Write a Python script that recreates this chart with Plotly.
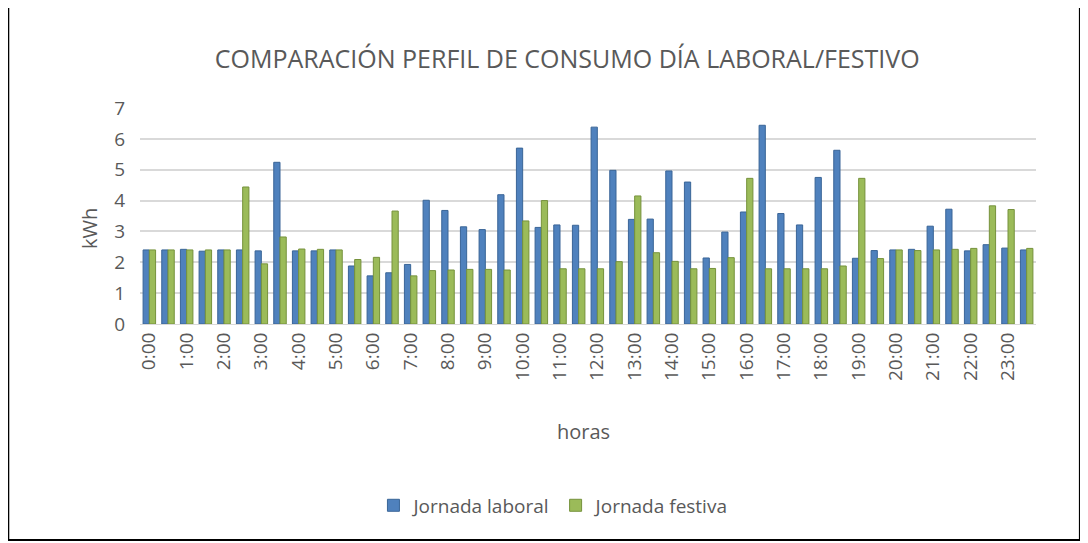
import plotly.graph_objects as go

# Half-hour categories 0:00 ... 23:30
horas = [f"{h}:{m:02d}" for h in range(24) for m in (0, 30)]

laboral = [2.40, 2.40, 2.42, 2.36, 2.40, 2.40, 2.37, 5.24, 2.37, 2.37,
           2.40, 1.88, 1.56, 1.66, 1.93, 4.01, 3.68, 3.15, 3.06, 4.19,
           5.70, 3.13, 3.21, 3.20, 6.38, 4.98, 3.39, 3.40, 4.96, 4.60,
           2.14, 2.98, 3.63, 6.44, 3.58, 3.21, 4.75, 5.63, 2.13, 2.38,
           2.40, 2.42, 3.17, 3.72, 2.37, 2.57, 2.46, 2.40]

festiva = [2.40, 2.40, 2.40, 2.40, 2.40, 4.44, 1.95, 2.82, 2.43, 2.42,
           2.40, 2.09, 2.16, 3.66, 1.56, 1.73, 1.75, 1.77, 1.77, 1.75,
           3.34, 4.00, 1.79, 1.79, 1.79, 2.02, 4.15, 2.31, 2.03, 1.79,
           1.80, 2.15, 4.72, 1.79, 1.79, 1.79, 1.79, 1.88, 4.72, 2.12,
           2.40, 2.38, 2.40, 2.42, 2.45, 3.83, 3.71, 2.45]

grey = "#595959"
font = "Open Sans"

fig = go.Figure()
fig.add_trace(go.Bar(x=horas, y=laboral, name="Jornada laboral",
                     marker=dict(color="#4F81BD", line=dict(color="#3A6597", width=1))))
fig.add_trace(go.Bar(x=horas, y=festiva, name="Jornada festiva",
                     marker=dict(color="#9BBB59", line=dict(color="#76923C", width=1))))

fig.update_layout(
    width=1088, height=543,
    paper_bgcolor="white", plot_bgcolor="white",
    # page body adds an 8px offset, margins compensate
    margin=dict(l=132, r=60, t=100, b=227, autoexpand=False),
    barmode="group", bargap=0.33, bargroupgap=0.0,
    font=dict(family=font, color=grey),
    title=dict(text="COMPARACIÓN PERFIL DE CONSUMO DÍA LABORAL/FESTIVO",
               x=0.514, xanchor="center", y=0.905, yanchor="middle",
               font=dict(size=25, color=grey, family=font)),
    showlegend=True,
    legend=dict(orientation="h", x=0.462, xanchor="center", y=-0.84, yanchor="middle",
                font=dict(size=19, color=grey), itemwidth=30, traceorder="normal"),
    xaxis=dict(
        type="category", tickmode="array", tickvals=horas[::2], ticktext=horas[::2],
        tickangle=-90, tickfont=dict(size=19, color=grey),
        showgrid=False, showline=True, linecolor="#D9D9D9", ticks="",
    ),
    yaxis=dict(
        range=[0, 7], dtick=1, tickfont=dict(size=19, color=grey),
        showgrid=True, gridcolor="#D9D9D9", gridwidth=1.5, zeroline=False,
        ticks="", ticklabelstandoff=14,
    ),
    annotations=[
        dict(text="horas", xref="paper", yref="paper", x=0.495, y=-0.57,
             showarrow=False, font=dict(size=20, color=grey, family=font)),
        dict(text="kWh", xref="paper", yref="paper", x=-0.073, y=0.44,
             textangle=-90, showarrow=False, font=dict(size=20, color=grey, family=font)),
    ],
    shapes=[
        dict(type="rect", xref="paper", yref="paper",
             x0=-0.147, x1=1.049, y0=-1.0, y1=1.477,
             line=dict(color="black", width=2), fillcolor="rgba(0,0,0,0)", layer="below"),
    ],
)

fig.write_html("out.html")
